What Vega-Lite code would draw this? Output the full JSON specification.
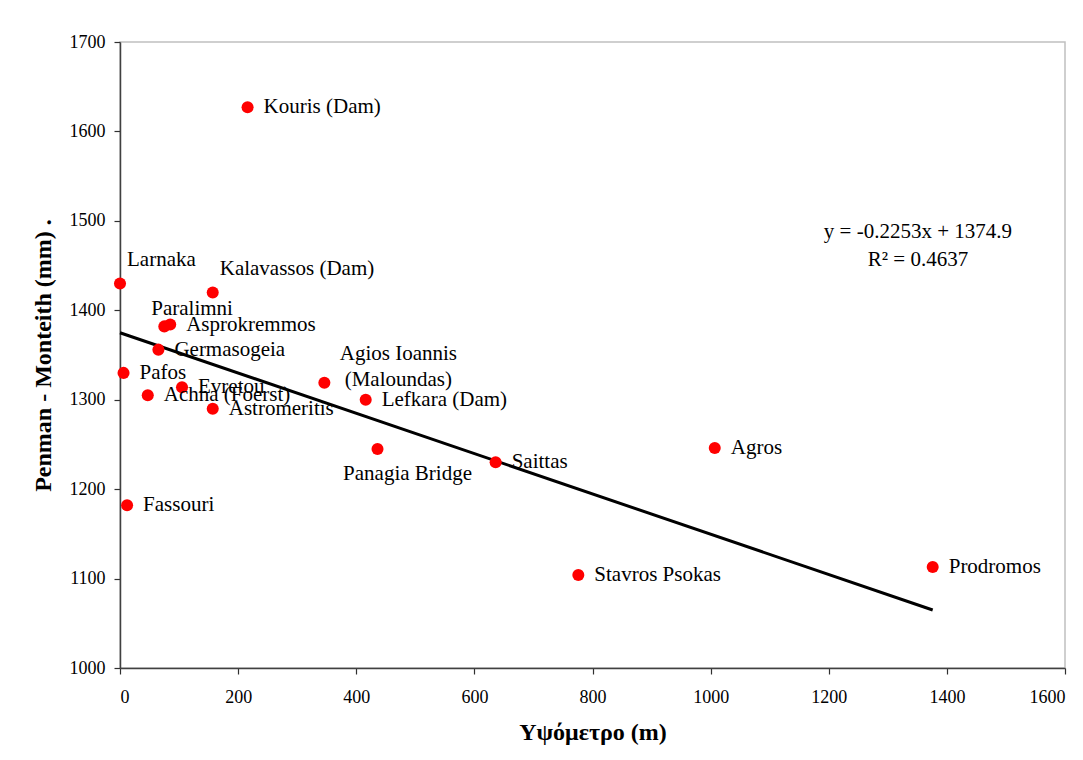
{
  "$schema": "https://vega.github.io/schema/vega-lite/v6.json",
  "autosize": "none",
  "width": 945,
  "height": 626,
  "padding": {"left": 120, "top": 42, "right": 18, "bottom": 92},
  "background": "white",
  "config": {
    "font": "Liberation Serif",
    "view": {"stroke": "#c0c0c0", "strokeWidth": 1.5},
    "axis": {
      "grid": false,
      "domainColor": "#404040",
      "domainWidth": 1.5,
      "tickColor": "#303030",
      "tickWidth": 1.2,
      "tickSize": 6,
      "labelFont": "Liberation Serif",
      "labelFontSize": 18,
      "labelColor": "black",
      "titleFont": "Liberation Serif",
      "titleFontSize": 24,
      "titleFontWeight": "bold",
      "titleColor": "black"
    },
    "text": {"font": "Liberation Serif", "fontSize": 21, "color": "black"}
  },
  "datasets": {
    "stations": [
      {"station": "Kouris (Dam)", "elev": 216, "pm": 1627},
      {"station": "Larnaka", "elev": 0, "pm": 1430},
      {"station": "Kalavassos (Dam)", "elev": 157, "pm": 1420},
      {"station": "Paralimni", "elev": 75, "pm": 1382},
      {"station": "Asprokremmos", "elev": 85, "pm": 1384},
      {"station": "Germasogeia", "elev": 65, "pm": 1356},
      {"station": "Pafos", "elev": 6, "pm": 1330},
      {"station": "Evretou", "elev": 105, "pm": 1314},
      {"station": "Achna (Foerst)", "elev": 47, "pm": 1305},
      {"station": "Astromeritis", "elev": 157, "pm": 1290},
      {"station": "Agios Ioannis\n(Maloundas)", "elev": 346, "pm": 1319},
      {"station": "Lefkara (Dam)", "elev": 416, "pm": 1300},
      {"station": "Panagia Bridge", "elev": 436, "pm": 1245},
      {"station": "Saittas", "elev": 636, "pm": 1230},
      {"station": "Fassouri", "elev": 12, "pm": 1182},
      {"station": "Agros", "elev": 1007, "pm": 1246},
      {"station": "Stavros Psokas", "elev": 776, "pm": 1104},
      {"station": "Prodromos", "elev": 1376, "pm": 1113}
    ],
    "trend": [
      {"elev": 0, "pm": 1374.9},
      {"elev": 1376, "pm": 1064.89}
    ],
    "fit": [
      {"label": "y = -0.2253x + 1374.9\nR² = 0.4637"}
    ]
  },
  "layer": [
    {
      "data": {"name": "trend"},
      "mark": {"type": "line", "color": "black", "strokeWidth": 3},
      "encoding": {
        "x": {
          "field": "elev",
          "type": "quantitative",
          "scale": {"domain": [0, 1600], "nice": false, "zero": false},
          "axis": {
            "values": [0, 200, 400, 600, 800, 1000, 1200, 1400, 1600],
            "format": "d",
            "title": "Υψόμετρο (m)",
            "labelPadding": 14,
            "titlePadding": 14,
            "encoding": {"ticks": {"update": {"y": {"value": -6}}}}
          }
        },
        "y": {
          "field": "pm",
          "type": "quantitative",
          "scale": {"domain": [1000, 1700], "nice": false, "zero": false},
          "axis": {
            "values": [1000, 1100, 1200, 1300, 1400, 1500, 1600, 1700],
            "format": "d",
            "title": "Penman - Monteith (mm)  .",
            "labelPadding": 9,
            "titlePadding": 14,
            "encoding": {"ticks": {"update": {"x": {"value": 6}}}}
          }
        }
      }
    },
    {
      "data": {"name": "stations"},
      "mark": {"type": "circle", "size": 145, "color": "#ff0000", "opacity": 1},
      "encoding": {
        "x": {"field": "elev", "type": "quantitative"},
        "y": {"field": "pm", "type": "quantitative"}
      }
    },
    {
      "data": {"name": "stations"},
      "transform": [{"filter": {"not": {"field": "station", "oneOf": ["Larnaka", "Kalavassos (Dam)", "Paralimni", "Agios Ioannis\n(Maloundas)", "Panagia Bridge"]}}}],
      "mark": {"type": "text", "align": "left", "baseline": "middle", "dx": 16},
      "encoding": {
        "x": {"field": "elev", "type": "quantitative"},
        "y": {"field": "pm", "type": "quantitative"},
        "text": {"field": "station"}
      }
    },
    {
      "data": {"name": "stations"},
      "transform": [{"filter": {"field": "station", "oneOf": ["Larnaka", "Kalavassos (Dam)"]}}],
      "mark": {"type": "text", "align": "left", "baseline": "middle", "dx": 7, "dy": -23},
      "encoding": {
        "x": {"field": "elev", "type": "quantitative"},
        "y": {"field": "pm", "type": "quantitative"},
        "text": {"field": "station"}
      }
    },
    {
      "data": {"name": "stations"},
      "transform": [{"filter": {"field": "station", "equal": "Paralimni"}}],
      "mark": {"type": "text", "align": "left", "baseline": "middle", "dx": -13, "dy": -17},
      "encoding": {
        "x": {"field": "elev", "type": "quantitative"},
        "y": {"field": "pm", "type": "quantitative"},
        "text": {"field": "station"}
      }
    },
    {
      "data": {"name": "stations"},
      "transform": [{"filter": {"field": "station", "equal": "Agios Ioannis\n(Maloundas)"}}],
      "mark": {"type": "text", "align": "center", "baseline": "middle", "dx": 74, "dy": -29, "lineBreak": "\n", "lineHeight": 26},
      "encoding": {
        "x": {"field": "elev", "type": "quantitative"},
        "y": {"field": "pm", "type": "quantitative"},
        "text": {"field": "station"}
      }
    },
    {
      "data": {"name": "stations"},
      "transform": [{"filter": {"field": "station", "equal": "Panagia Bridge"}}],
      "mark": {"type": "text", "align": "center", "baseline": "middle", "dx": 30, "dy": 25},
      "encoding": {
        "x": {"field": "elev", "type": "quantitative"},
        "y": {"field": "pm", "type": "quantitative"},
        "text": {"field": "station"}
      }
    },
    {
      "data": {"name": "fit"},
      "mark": {"type": "text", "align": "center", "baseline": "middle", "lineBreak": "\n", "lineHeight": 28},
      "encoding": {
        "x": {"datum": 1351, "type": "quantitative"},
        "y": {"datum": 1488, "type": "quantitative"},
        "text": {"field": "label"}
      }
    }
  ]
}
